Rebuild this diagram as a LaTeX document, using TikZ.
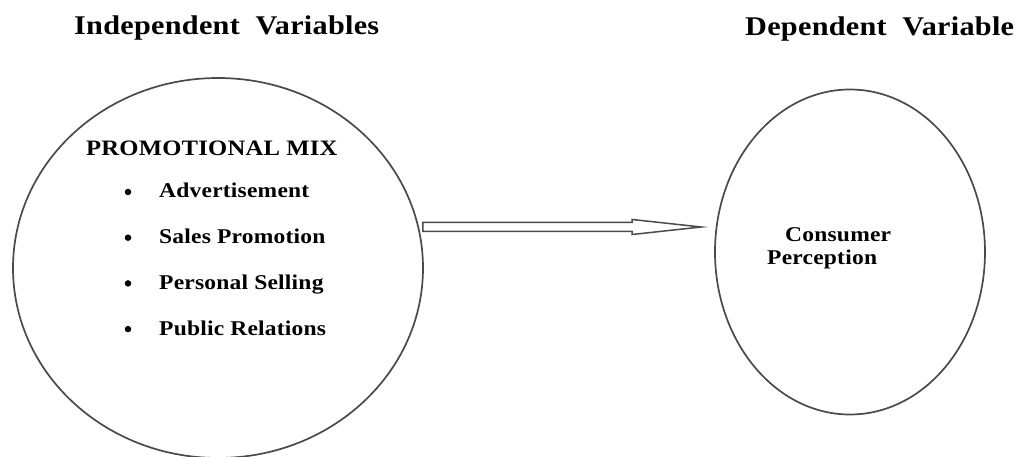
\documentclass[tikz,border=0pt]{standalone}
\usepackage{fontspec}
\setmainfont{Liberation Serif}
\newfontfamily\diagfont[FakeStretch=1.12,LetterSpace=1]{Liberation Serif}
\usetikzlibrary{shapes.geometric,calc}

\definecolor{linegray}{HTML}{4A4A4A}

\tikzset{
  oval/.style={draw=linegray, ellipse, line width=1.7pt, inner sep=0pt},
  heading/.style={anchor=base west, inner sep=0pt, font=\diagfont\bfseries\fontsize{27}{31}\selectfont},
  item/.style={anchor=base west, inner sep=0pt, font=\diagfont\bfseries\fontsize{21}{25}\selectfont},
  dot/.style={circle, fill=black, inner sep=0pt, minimum size=6.5pt},
  arrowline/.style={draw=linegray, line width=1.5pt, line join=miter}
}

\begin{document}
\begin{tikzpicture}[x=1pt,y=-1pt]
        \useasboundingbox (0,0) rectangle (1021,457);

        \node[heading] (indep) at (74,35) {Independent\ \ Variables};
        \node[heading] (dep) at (745,36) {Dependent\ \ Variable};

        \node[oval, minimum width=410pt, minimum height=380pt] (promo) at (218,268) {};
        \node[oval, minimum width=270pt, minimum height=325pt] (percep) at (850,252) {};

        \node[item, font=\diagfont\bfseries\fontsize{22}{26}\selectfont] (mix) at (86,156) {PROMOTIONAL MIX};
        \foreach \txt [count=\i] in {Advertisement, Sales Promotion, Personal Selling, Public Relations} {
            \node[dot] (b\i) at (128,{192+(\i-1)*45.7}) {};
            \node[item] (t\i) at (159,{198+(\i-1)*45.7}) {\txt};
        }

        \node[item] (cons) at (785,242) {Consumer};
        \node[item] (perc) at (767,265) {Perception};

        % hollow arrow from promo to percep
        \coordinate (s) at ($(promo.east)+(-1,-41)$);
        \coordinate (t) at ($(percep.west)+(-13,-25)$);
        \draw[arrowline] ($(s)+(0,-4.5)$) -- ($(t)+(-69,-4.5)$) -- ($(t)+(-69,-7.5)$) -- (t)
              -- ($(t)+(-69,7.5)$) -- ($(t)+(-69,4.5)$) -- ($(s)+(0,4.5)$) -- cycle;
    \end{tikzpicture}
\end{document}
